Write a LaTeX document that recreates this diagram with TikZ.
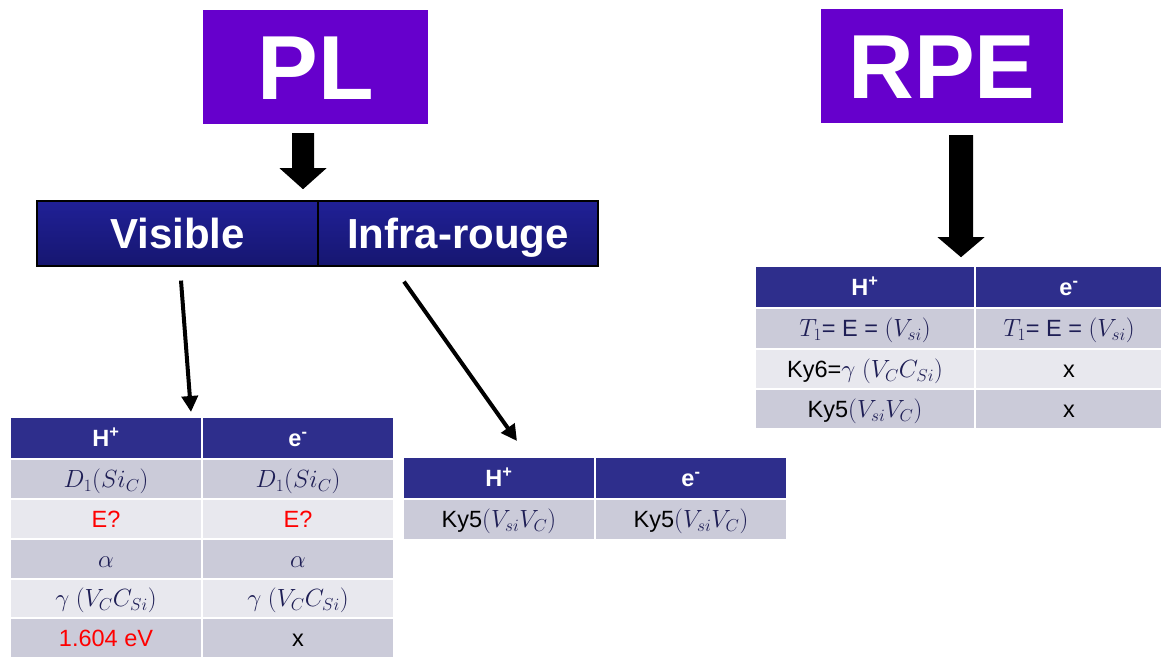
\documentclass[tikz,border=0pt]{standalone}
\usepackage{fontspec}
\setmainfont{Liberation Sans}
\usetikzlibrary{arrows.meta,calc}
\definecolor{plpurple}{RGB}{102,0,204}
\definecolor{hdr}{RGB}{46,46,140}
\definecolor{rowA}{RGB}{203,203,217}
\definecolor{rowB}{RGB}{232,232,238}
\definecolor{barTop}{RGB}{32,32,150}
\definecolor{barBot}{RGB}{22,22,112}
\definecolor{mathc}{RGB}{30,30,85}
\definecolor{redt}{RGB}{255,0,0}
\newcommand{\mth}[1]{\textcolor{mathc}{\fontsize{24}{28}\selectfont$#1$}}
\begin{document}
\begin{tikzpicture}[x=1pt,y=-1pt,
  titlebox/.style={fill=plpurple, text=white, inner sep=0pt,
    font=\bfseries\fontsize{91}{91}\selectfont, minimum height=114pt,
    text height=65pt, text depth=0pt},
  barbox/.style={draw=black, line width=1.2pt, top color=barTop, bottom color=barBot,
    text=white, font=\bfseries\fontsize{42}{42}\selectfont, minimum height=65pt,
    inner sep=0pt, text height=30pt, text depth=0pt},
  cellbase/.style={draw=white, line width=2pt, inner sep=0pt, minimum width=192pt,
    minimum height=40pt, font=\fontsize{23.5}{27}\selectfont, text height=16.8pt, text depth=0pt},
  hcell/.style={cellbase, fill=hdr, text=white, font=\bfseries\fontsize{23.5}{27}\selectfont,
    minimum height=42pt, text height=16.8pt},
  dcell/.style={cellbase, fill=rowA},
  lcell/.style={cellbase, fill=rowB},
  thinarrow/.style={line width=4pt, -{Triangle[length=16pt,width=16pt]}},
  blockarrow/.style={fill=black},
]
\useasboundingbox (0,0) rectangle (1161,656);

% Title boxes
\node[titlebox, minimum width=225pt] (pl) at (315.5,67) {PL};
\node[titlebox, minimum width=242pt] (rpe) at (942,66) {RPE};

% Visible / Infra-rouge bar
\node[barbox, minimum width=281pt] (vis) at (177.5,233.5) {Visible};
\node[barbox, minimum width=280pt] (ir) at (458,233.5) {Infra-rouge};

% Table 1 (Visible)
\node[hcell] (t1h1) at (106,438) {H\textsuperscript{+}};
\node[hcell] (t1h2) at (298,438) {e\textsuperscript{-}};
\node[dcell] (t1a1) at (106,479) {\mth{D_1(Si_C)}};
\node[dcell] (t1a2) at (298,479) {\mth{D_1(Si_C)}};
\node[lcell] (t1b1) at (106,519) {\textcolor{redt}{E?}};
\node[lcell] (t1b2) at (298,519) {\textcolor{redt}{E?}};
\node[dcell] (t1c1) at (106,559) {\mth{\alpha}};
\node[dcell] (t1c2) at (298,559) {\mth{\alpha}};
\node[lcell, minimum height=39pt] (t1d1) at (106,598.5) {\mth{\gamma\ (V_C C_{Si})}};
\node[lcell, minimum height=39pt] (t1d2) at (298,598.5) {\mth{\gamma\ (V_C C_{Si})}};
\node[dcell] (t1e1) at (106,638) {\textcolor{redt}{1.604 eV}};
\node[dcell] (t1e2) at (298,638) {x};

% Table 2 (Infra-rouge)
\node[hcell] (t2h1) at (499,478) {H\textsuperscript{+}};
\node[hcell] (t2h2) at (691,478) {e\textsuperscript{-}};
\node[dcell, minimum height=41pt] (t2a1) at (499,519.5) {Ky5\mth{(V_{si}V_C)}};
\node[dcell, minimum height=41pt] (t2a2) at (691,519.5) {Ky5\mth{(V_{si}V_C)}};

% Table 3 (RPE)
\node[hcell, minimum width=220pt] (t3h1) at (865,287) {H\textsuperscript{+}};
\node[hcell, minimum width=188pt] (t3h2) at (1069,287) {e\textsuperscript{-}};
\node[dcell, minimum width=220pt, minimum height=41pt] (t3a1) at (865,328.5) {\mth{T_1}\textcolor{mathc}{= E = }\mth{(V_{si})}};
\node[dcell, minimum width=188pt, minimum height=41pt] (t3a2) at (1069,328.5) {\mth{T_1}\textcolor{mathc}{= E = }\mth{(V_{si})}};
\node[lcell, minimum width=220pt] (t3b1) at (865,369) {Ky6=\mth{\gamma\ (V_C C_{Si})}};
\node[lcell, minimum width=188pt] (t3b2) at (1069,369) {x};
\node[dcell, minimum width=220pt] (t3c1) at (865,409) {Ky5\mth{(V_{si}V_C)}};
\node[dcell, minimum width=188pt] (t3c2) at (1069,409) {x};

% Block arrows
\coordinate (plarr) at ($(pl.south)+(-12.5,9)$);
\fill[blockarrow] (plarr) ++(-11,0) -- ++(22,0) -- ++(0,35) -- ++(12.5,0)
  -- ++(-23.5,21) -- ++(-23.5,-21) -- ++(12.5,0) -- cycle;
\coordinate (rpearr) at ($(rpe.south)+(19,12)$);
\fill[blockarrow] (rpearr) ++(-12,0) -- ++(24,0) -- ++(0,102) -- ++(11.5,0)
  -- ++(-23.5,20) -- ++(-23.5,-20) -- ++(11.5,0) -- cycle;

% Thin arrows
\coordinate (va) at ($(vis.south)+(3.5,14)$);
\coordinate (vb) at ($(t1h1.north)+(85,-4)$);
\draw[thinarrow] (va) -- (vb);
\coordinate (ia) at ($(ir.south)+(-54,15)$);
\coordinate (ib) at ($(t2h1.north)+(18,-15)$);
\draw[thinarrow] (ia) -- (ib);
\end{tikzpicture}
\end{document}
